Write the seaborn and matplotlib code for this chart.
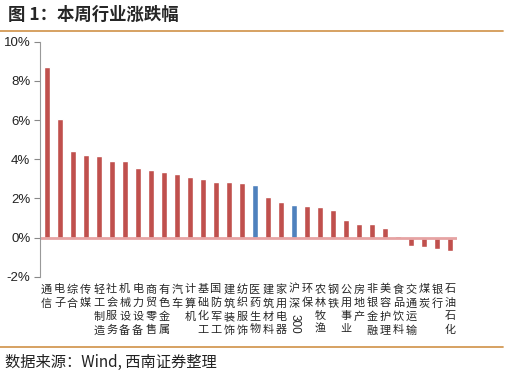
import matplotlib.pyplot as plt
import pandas as pd
import seaborn as sns
from matplotlib.lines import Line2D
from matplotlib.ticker import FuncFormatter

industries = ["通信", "电子", "综合", "传媒", "轻工制造", "社会服务", "机械设备",
              "电力设备", "商贸零售", "有色金属", "汽车", "计算机", "基础化工",
              "国防军工", "建筑装饰", "纺织服饰", "医药生物", "建筑材料", "家用电器",
              "沪深300", "环保", "农林牧渔", "钢铁", "公用事业", "房地产", "非银金融",
              "美容护理", "食品饮料", "交通运输", "煤炭", "银行", "石油石化"]
changes = [8.69, 6.04, 4.44, 4.23, 4.17, 3.91, 3.90, 3.57, 3.45, 3.37, 3.25,
           3.08, 2.99, 2.86, 2.82, 2.76, 2.67, 2.07, 1.79, 1.65, 1.60, 1.56,
           1.39, 0.90, 0.71, 0.68, 0.49, 0.08, -0.44, -0.49, -0.58, -0.71]
highlight = ["医药生物", "沪深300"]

df = pd.DataFrame({"name": industries, "chg": changes})
df["grp"] = ["blue" if n in highlight else "red" for n in industries]

sns.set_style("white")
plt.rcParams["font.family"] = ["Liberation Sans", "Noto Sans CJK SC", "DejaVu Sans"]

fig = plt.figure(figsize=(5.07, 3.78), dpi=100)
ax = fig.add_axes([40 / 507, 1 - 276.7 / 378, 417 / 507, 235 / 378])

sns.barplot(data=df, x="name", y="chg", hue="grp", dodge=False, legend=False,
            palette={"red": "#C0504D", "blue": "#4F81BD"}, width=0.46, ax=ax,
            saturation=1)

ax.set_ylim(-2, 10)
ax.set_xlim(-0.5, len(industries) - 0.5)
ax.set_yticks(range(-2, 11, 2))
ax.yaxis.set_major_formatter(FuncFormatter(lambda v, p: f"{int(v)}%"))
ax.tick_params(axis="y", left=True, length=4, width=0.8, color="#888888",
               labelsize=9.5, pad=3, labelcolor="#222222")
ax.axhline(0, color="#E6A3A3", lw=2, zorder=1)
for s in ["top", "right", "bottom"]:
    ax.spines[s].set_visible(False)
ax.spines["left"].set_color("#999999")
ax.spines["left"].set_linewidth(0.8)
ax.set_xlabel("")
ax.set_ylabel("")

# vertical category labels
labels = []
for n in industries:
    if n == "沪深300":
        labels.append("沪\n深")
    else:
        labels.append("\n".join(n))
ax.set_xticks(range(len(industries)))
ax.set_xticklabels(labels, fontsize=8, linespacing=1.42, va="top",
                   family=["Noto Sans CJK SC", "DejaVu Sans"])
ax.tick_params(axis="x", bottom=False, pad=2)
i300 = industries.index("沪深300")
ax.text(i300, -0.16, "300", rotation=-90, ha="center", va="top", fontsize=8.5,
        transform=ax.get_xaxis_transform(), family="Liberation Sans")

# title, rules, source
fig.text(8 / 507, 1 - 15 / 378, "图 1：本周行业涨跌幅", fontsize=12.5, fontweight="bold",
         va="center", ha="left", family=["Noto Sans CJK SC", "DejaVu Sans"])
fig.add_artist(Line2D([0, 503 / 507], [1 - 31 / 378] * 2, color="#D39A55", lw=1.3))
fig.add_artist(Line2D([0, 503 / 507], [1 - 347 / 378] * 2, color="#D39A55", lw=1.3))
fig.text(5 / 507, 1 - 362 / 378, "数据来源：Wind, 西南证券整理", fontsize=11,
         style="italic", va="center", ha="left", color="#222222",
         family=["Noto Sans CJK SC", "DejaVu Sans"])

fig.savefig("out.png", dpi=100)
